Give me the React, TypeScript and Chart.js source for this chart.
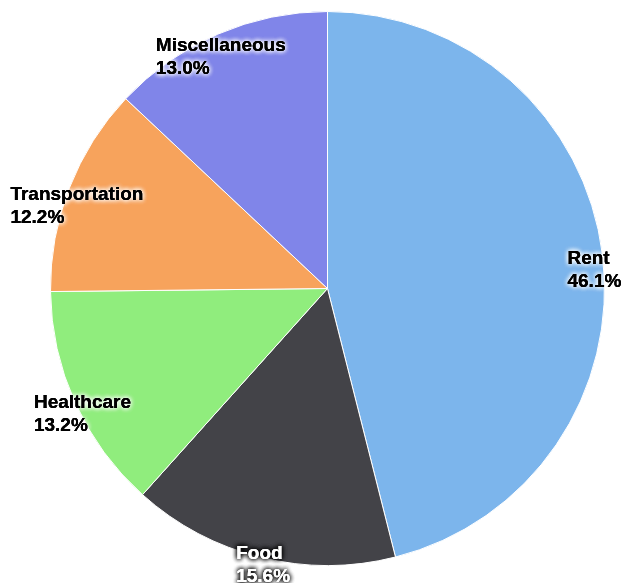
import React, { useEffect, useRef } from "react";
import { Chart, registerables } from "chart.js";

Chart.register(...registerables);

const categories = ["Rent", "Food", "Healthcare", "Transportation", "Miscellaneous"];
const values = [46.1, 15.6, 13.2, 12.2, 13.0];
const colors = ["#7cb5ec", "#434348", "#90ed7d", "#f7a35c", "#8085e9"];
const labelColors = ["#000000", "#ffffff", "#000000", "#000000", "#000000"];
const glowColors = ["#ffffff", "#000000", "#ffffff", "#ffffff", "#ffffff"];

const labelPlugin = {
  id: "pieLabels",
  afterDatasetsDraw(chart: any) {
    const ctx = chart.ctx;
    const meta = chart.getDatasetMeta(0);
    const total = values.reduce((a, b) => a + b, 0);
    ctx.save();
    ctx.font = "bold 19px 'Liberation Sans', Arial, sans-serif";
    ctx.textAlign = "left";
    ctx.textBaseline = "alphabetic";
    meta.data.forEach((arc: any, i: number) => {
      const p = arc.getProps(["x", "y", "startAngle", "endAngle", "outerRadius"], true);
      const mid = (p.startAngle + p.endAngle) / 2;
      const r = p.outerRadius * 0.971;
      const ax = p.x + r * Math.cos(mid);
      const ay = p.y + r * Math.sin(mid);
      const pct = ((values[i] / total) * 100).toFixed(1) + "%";
      const lines = [categories[i], pct];
      const w = Math.max(...lines.map((l) => ctx.measureText(l).width));
      const left = ax - w / 2;
      lines.forEach((line, j) => {
        const by = ay + 9 + j * 23;
        ctx.shadowColor = glowColors[i];
        ctx.shadowBlur = 5;
        ctx.fillStyle = labelColors[i];
        for (let k = 0; k < 3; k++) ctx.fillText(line, left, by);
        ctx.shadowBlur = 0;
        ctx.fillText(line, left, by);
      });
    });
    ctx.restore();
  },
};

export default function App() {
  const ref = useRef<HTMLCanvasElement>(null);
  useEffect(() => {
    if (!ref.current) return;
    const chart = new Chart(ref.current, {
      type: "pie",
      data: {
        labels: categories,
        datasets: [
          {
            data: values,
            backgroundColor: colors,
            borderColor: "#ffffff",
            borderWidth: 1,
            hoverOffset: 0,
            offset: 0,
          },
        ],
      },
      options: {
        responsive: false,
        animation: false,
        devicePixelRatio: 1,
        layout: { padding: { left: 50, top: 11, right: 17, bottom: 17 } },
        plugins: {
          legend: { display: false },
          tooltip: { enabled: false },
        },
      },
      plugins: [labelPlugin],
    });
    return () => chart.destroy();
  }, []);
  return (
    <div style={{ position: "absolute", left: 0, top: 0, width: 622, height: 583, background: "#fff" }}>
      <canvas ref={ref} width={622} height={583} style={{ width: 622, height: 583, display: "block" }} />
    </div>
  );
}
